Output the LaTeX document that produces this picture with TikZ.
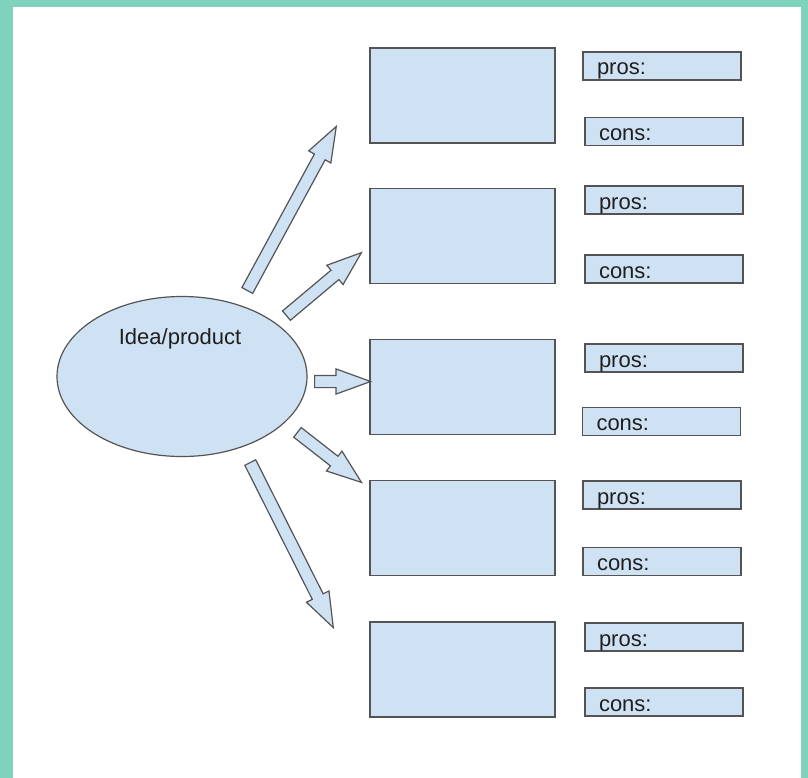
\documentclass[tikz,border=0pt]{standalone}
\usepackage{fontspec}
\setmainfont{Liberation Sans}
\usetikzlibrary{shapes.geometric,shapes.arrows,calc}
\definecolor{frame}{RGB}{127,210,187}
\definecolor{boxfill}{RGB}{207,226,243}
\definecolor{boxline}{RGB}{84,84,84}
\begin{document}
\begin{tikzpicture}[x=1pt, y=-1pt,
  every node/.style = {font=\fontsize{22pt}{26pt}\selectfont, text=black!88},
  idea/.style = {ellipse, draw=boxline, fill=boxfill, line width=1.2pt,
    minimum width=250pt, minimum height=160pt, inner sep=0pt},
  choice/.style = {rectangle, draw=boxline, fill=boxfill, line width=1.8pt,
    minimum width=185pt, minimum height=95pt},
  note/.style = {rectangle, draw=boxline, fill=boxfill, line width=1.4pt,
    minimum width=158pt, minimum height=28pt, inner xsep=14pt, inner ysep=0pt,
    text width=130pt, align=left, text height=18pt, text depth=0pt},
  blockarrow/.style = {single arrow, draw=boxline, fill=boxfill, line width=1.2pt,
    inner xsep=0pt, inner ysep=5.5pt, minimum width=0pt,
    single arrow head extend=6.5pt, single arrow tip angle=40, anchor=tail}]
  \useasboundingbox (0,0) rectangle (808,778);
  \fill[frame] (0,0) rectangle (808,778);
  \fill[white] (13,7) rectangle (801,778);

  \node[idea] (idea) at (182,376.5) {};
  \node (idealabel) at (180,339) {Idea/product};

  \foreach \i/\y in {1/95.5, 2/236, 3/387, 4/528, 5/669.5}
    \node[choice] (choice\i) at (462.5,\y) {};

  \foreach \i/\xp/\yp/\xc/\yc in {1/662/66/664/131.5, 2/664/200/664/269,
      3/664/358/661.5/421.5, 4/662/495/662/561.5, 5/664/637/664/702} {
    \node[note] (pros\i) at (\xp,\yp) {pros:};
    \node[note] (cons\i) at (\xc,\yc) {cons:};
  }

  % tails and tips of the block arrows
  \coordinate (tail1) at (247,291);   \coordinate (tip1) at (336,127);
  \coordinate (tail2) at (286,316);   \coordinate (tip2) at (361,253);
  \coordinate (tail3) at (314,381.5); \coordinate (tip3) at (370,381.5);
  \coordinate (tail4) at (297,432);   \coordinate (tip4) at (361,482);
  \coordinate (tail5) at (250,462);   \coordinate (tip5) at (333,627);

  \foreach \i in {1,...,5}
    \path let \p1 = ($(tip\i)-(tail\i)$), \n1 = {veclen(\x1,\y1)},
      \n2 = {atan2(\y1,\x1)} in
      node[blockarrow, rotate=\n2, minimum height=\n1] (arrow\i) at (tail\i) {};
\end{tikzpicture}
\end{document}
